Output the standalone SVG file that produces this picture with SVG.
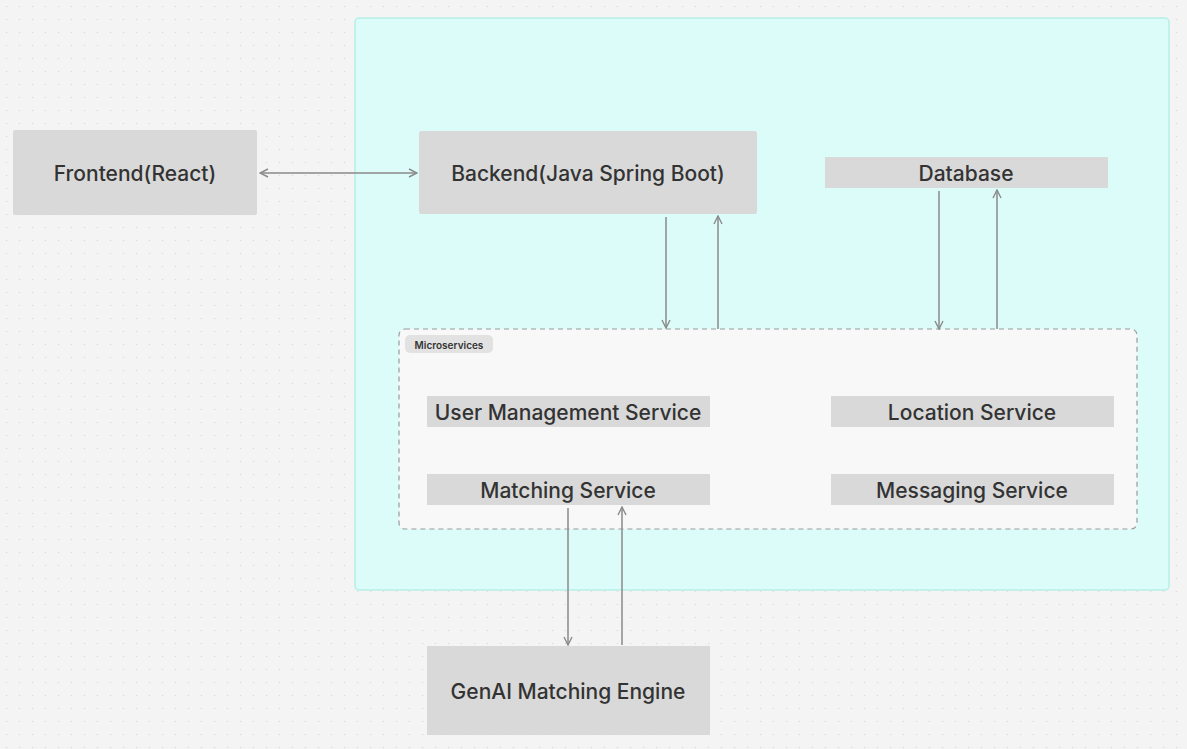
<svg xmlns="http://www.w3.org/2000/svg" width="1187" height="749" viewBox="0 0 1187 749">
<defs>
<pattern id="dots" x="0" y="0" width="13" height="13" patternUnits="userSpaceOnUse">
<circle cx="6.5" cy="6.5" r="0.8" fill="#dcdcdc"/>
</pattern>
<marker id="ah" viewBox="0 0 10 10" refX="9" refY="5" markerWidth="10" markerHeight="10" markerUnits="userSpaceOnUse" orient="auto-start-reverse">
<path d="M1,1 L9,5 L1,9" fill="none" stroke="#8a8a8a" stroke-width="1.4"/>
</marker>
<style>
.node{fill:#d9d9d9;}
.lbl{font-family:Inter,"Liberation Sans",sans-serif;font-size:21px;font-weight:500;fill:#333;text-anchor:middle;dominant-baseline:central;}
.con{stroke:#8a8a8a;stroke-width:1.5;fill:none;marker-end:url(#ah);}
</style>
</defs>
<rect width="1187" height="749" fill="#f4f4f4"/>
<rect width="1187" height="749" fill="url(#dots)"/>
<g id="container">
<rect x="355" y="18" width="814" height="572" rx="4" fill="#dcfcfa" stroke="#b6eee8" stroke-width="1.5"/>
</g>
<g id="microservices">
<rect x="399" y="329" width="738" height="200" rx="6" fill="#f8f8f8" stroke="#9a9a9a" stroke-width="1.2" stroke-dasharray="5 4"/>
<rect x="405" y="335" width="88" height="18" rx="5" fill="#e2e2e2"/>
<text x="449" y="344.5" font-family="Inter,'Liberation Sans',sans-serif" font-size="10" font-weight="600" fill="#333" text-anchor="middle" dominant-baseline="central">Microservices</text>
</g>
<g id="frontend">
<rect class="node" x="13" y="130" width="244" height="85" rx="2"/>
<text class="lbl" x="135" y="173">Frontend(React)</text>
</g>
<g id="backend">
<rect class="node" x="419" y="131" width="338" height="83" rx="2"/>
<text class="lbl" x="588" y="173">Backend(Java Spring Boot)</text>
</g>
<g id="database">
<rect class="node" x="825" y="157" width="283" height="31"/>
<text class="lbl" x="966" y="173">Database</text>
</g>
<g id="user-management">
<rect class="node" x="427" y="396" width="283" height="31"/>
<text class="lbl" x="568" y="412">User Management Service</text>
</g>
<g id="location">
<rect class="node" x="831" y="396" width="283" height="31"/>
<text class="lbl" x="972" y="412">Location Service</text>
</g>
<g id="matching">
<rect class="node" x="427" y="474" width="283" height="31"/>
<text class="lbl" x="568" y="490">Matching Service</text>
</g>
<g id="messaging">
<rect class="node" x="831" y="474" width="283" height="31"/>
<text class="lbl" x="972" y="490">Messaging Service</text>
</g>
<g id="genai">
<rect class="node" x="427" y="646" width="283" height="89"/>
<text class="lbl" x="568" y="691">GenAI Matching Engine</text>
</g>
<g id="connectors">
<path class="con" d="M260,173 L417,173" marker-start="url(#ah)"/>
<path class="con" d="M666,217 L666,328"/>
<path class="con" d="M718,329 L718,216"/>
<path class="con" d="M939,191 L939,329"/>
<path class="con" d="M997,329 L997,190"/>
<path class="con" d="M568,508 L568,645"/>
<path class="con" d="M622,645 L622,507"/>
</g>
</svg>
